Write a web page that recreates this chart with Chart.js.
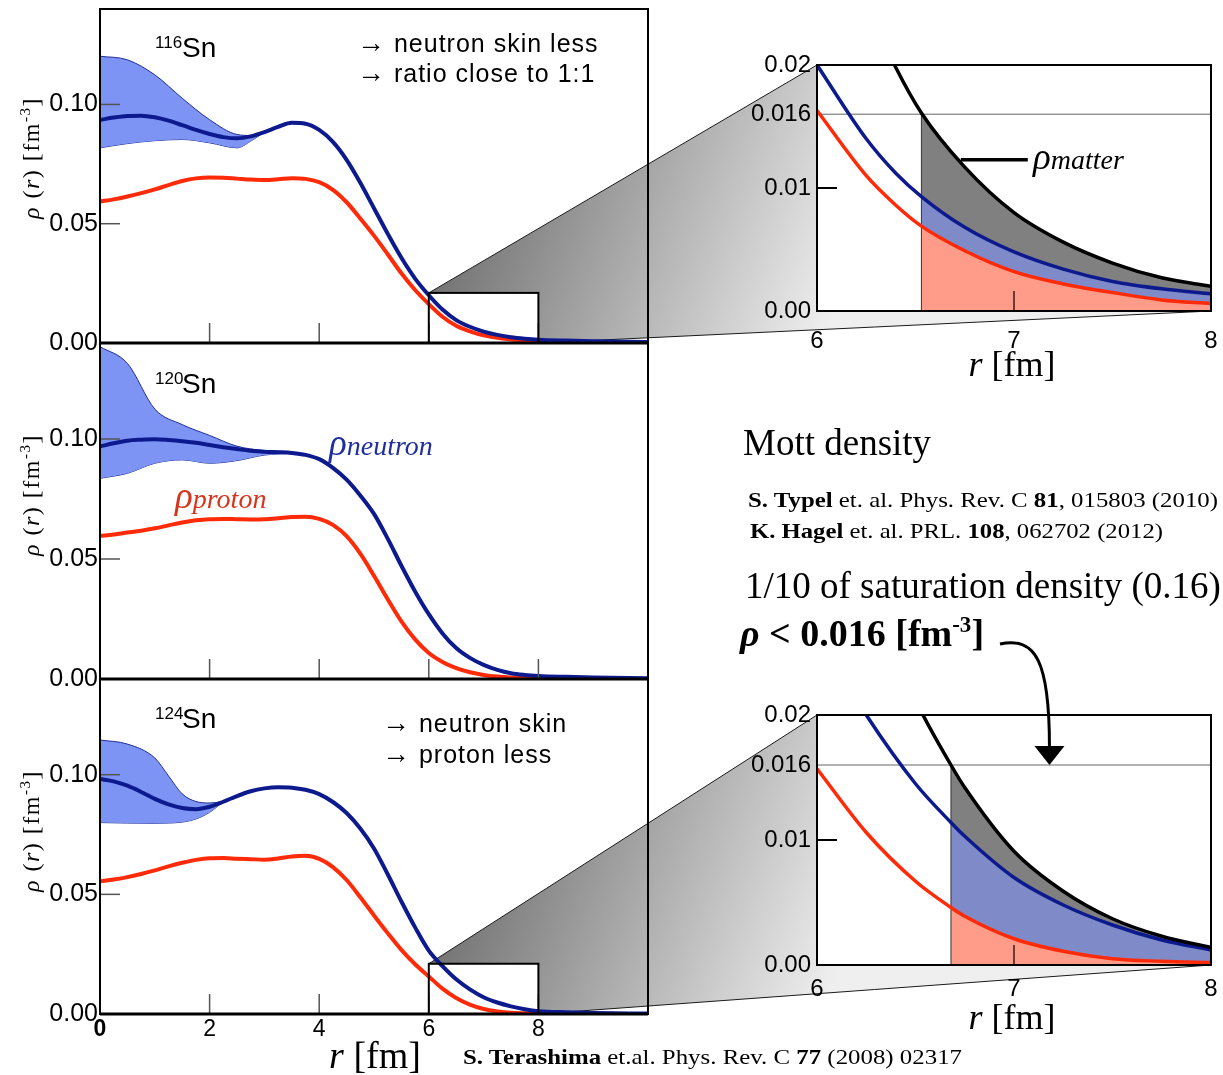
<!DOCTYPE html>
<html>
<head>
<meta charset="utf-8">
<script src="https://cdn.jsdelivr.net/npm/chart.js@4.4.1/dist/chart.umd.min.js"></script>
<style>
  html, body { margin: 0; padding: 0; background: #fff; }
  #stage { position: relative; width: 1223px; height: 1075px; overflow: hidden; background: #fff; }
  #stage canvas { position: absolute; }
  #labels { position: absolute; left: 0; top: 0; z-index: 5; }
</style>
</head>
<body>
<div id="stage">
  <canvas id="wedges" width="1223" height="1075" style="left:0;top:0;z-index:0"></canvas>
  <canvas id="p116" width="660" height="357" style="left:0;top:0;z-index:1"></canvas>
  <canvas id="p120" width="660" height="359" style="left:0;top:334px;z-index:1"></canvas>
  <canvas id="p124" width="660" height="389" style="left:0;top:670px;z-index:1"></canvas>
  <canvas id="z116" width="483" height="300" style="left:740px;top:50px;z-index:2"></canvas>
  <canvas id="z124" width="483" height="300" style="left:740px;top:700px;z-index:2"></canvas>

  <svg id="labels" width="1223" height="1075" xmlns="http://www.w3.org/2000/svg">
    <defs>
      <style>
        .sans { font-family: 'Liberation Sans', Arial, Helvetica, sans-serif; }
        .serif { font-family: 'Liberation Serif', 'Times New Roman', Times, serif; }
      </style>
    </defs>

    <!-- nucleus names -->
    <text class="sans" x="155" y="48" font-size="17">116</text>
    <text class="sans" x="182" y="57" font-size="28">Sn</text>
    <text class="sans" x="155" y="384" font-size="17">120</text>
    <text class="sans" x="182" y="393" font-size="28">Sn</text>
    <text class="sans" x="155" y="719" font-size="17">124</text>
    <text class="sans" x="182" y="728" font-size="28">Sn</text>

    <!-- comments inside the panels -->
    <text class="sans" x="357" y="52" font-size="25" letter-spacing="1"><tspan font-size="28">→</tspan> neutron skin less</text>
    <text class="sans" x="357" y="82" font-size="25" letter-spacing="1"><tspan font-size="28">→</tspan> ratio close to 1:1</text>
    <text class="sans" x="382" y="732" font-size="25" letter-spacing="1"><tspan font-size="28">→</tspan> neutron skin</text>
    <text class="sans" x="382" y="763" font-size="25" letter-spacing="1"><tspan font-size="28">→</tspan> proton less</text>

    <!-- curve names -->
    <text class="serif" x="329" y="455" fill="#1f2f9f" font-style="italic"><tspan font-size="37">ρ</tspan><tspan font-size="28">neutron</tspan></text>
    <text class="serif" x="175" y="508" fill="#d8341c" font-style="italic"><tspan font-size="37">ρ</tspan><tspan font-size="28">proton</tspan></text>
    <text class="serif" x="1033" y="169" fill="#000" font-style="italic"><tspan font-size="37">ρ</tspan><tspan font-size="28">matter</tspan></text>

    <!-- axis titles -->
    <text class="serif" transform="translate(39,158) rotate(-90)" text-anchor="middle" font-size="24" letter-spacing="1.5"><tspan font-style="italic">ρ</tspan> (<tspan font-style="italic">r</tspan>) [fm<tspan font-size="15" dy="-9">-3</tspan><tspan dy="9">]</tspan></text>
    <text class="serif" transform="translate(39,495) rotate(-90)" text-anchor="middle" font-size="24" letter-spacing="1.5"><tspan font-style="italic">ρ</tspan> (<tspan font-style="italic">r</tspan>) [fm<tspan font-size="15" dy="-9">-3</tspan><tspan dy="9">]</tspan></text>
    <text class="serif" transform="translate(39,831) rotate(-90)" text-anchor="middle" font-size="24" letter-spacing="1.5"><tspan font-style="italic">ρ</tspan> (<tspan font-style="italic">r</tspan>) [fm<tspan font-size="15" dy="-9">-3</tspan><tspan dy="9">]</tspan></text>
    <text class="serif" x="375" y="1068" text-anchor="middle" font-size="38"><tspan font-style="italic">r</tspan> [fm]</text>
    <text class="serif" x="1012" y="376" text-anchor="middle" font-size="36"><tspan font-style="italic">r</tspan> [fm]</text>
    <text class="serif" x="1012" y="1029" text-anchor="middle" font-size="36"><tspan font-style="italic">r</tspan> [fm]</text>

    <!-- Mott density notes -->
    <text class="serif" x="743" y="455" font-size="37">Mott density</text>
    <text class="serif" x="748" y="507" font-size="22" textLength="470" lengthAdjust="spacingAndGlyphs"><tspan font-weight="bold">S. Typel</tspan> et. al. Phys. Rev. C <tspan font-weight="bold">81</tspan>, 015803 (2010)</text>
    <text class="serif" x="750" y="538" font-size="22" textLength="413" lengthAdjust="spacingAndGlyphs"><tspan font-weight="bold">K. Hagel</tspan> et. al. PRL. <tspan font-weight="bold">108</tspan>, 062702 (2012)</text>
    <text class="serif" x="745" y="598" font-size="37">1/10 of saturation density (0.16)</text>
    <text class="serif" x="740" y="646" font-size="38" font-weight="bold"><tspan font-style="italic">ρ</tspan> &lt; 0.016 [fm<tspan font-size="23" dy="-14">-3</tspan><tspan dy="14">]</tspan></text>
    <text class="serif" x="463" y="1064" font-size="22" textLength="499" lengthAdjust="spacingAndGlyphs"><tspan font-weight="bold">S. Terashima</tspan> et.al. Phys. Rev. C <tspan font-weight="bold">77</tspan> (2008) 02317</text>

    <!-- arrow from the density criterion to the lower inset -->
    <path id="mottArrow" d="" fill="none" stroke="#000" stroke-width="3"/>
    <path id="mottArrowHead" d="" fill="#000" stroke="none"/>
  </svg>
</div>

<script>
// ---------------- data ----------------
// radial grid of the full density profiles [fm]
const rMain = [0, 0.25, 0.5, 0.75, 1, 1.25, 1.5, 1.75, 2, 2.25, 2.5, 2.75, 3, 3.25, 3.5, 3.75,
               4, 4.25, 4.5, 4.75, 5, 5.25, 5.5, 5.75, 6, 6.25, 6.5, 6.75, 7, 7.25, 7.5, 7.75,
               8, 8.5, 9, 10];

// 116Sn
const neutron116 = [0.0935, 0.0945, 0.0952, 0.0953, 0.0946, 0.0932, 0.0913, 0.0893, 0.0876, 0.0863, 0.0858, 0.0866, 0.0884, 0.0906, 0.0923, 0.0919,
                    0.0893, 0.0843, 0.0768, 0.0672, 0.0565, 0.0458, 0.0357, 0.0270, 0.0200, 0.0140, 0.0096, 0.0068, 0.0048, 0.0034, 0.0024, 0.0018,
                    0.0014, 0.0010, 0.0007, 0.0004];
const proton116  = [0.0593, 0.0602, 0.0614, 0.0628, 0.0644, 0.0662, 0.0679, 0.0690, 0.0694, 0.0693, 0.0689, 0.0685, 0.0683, 0.0686, 0.0691, 0.0688,
                    0.0674, 0.0642, 0.0590, 0.0522, 0.0450, 0.0372, 0.0292, 0.0222, 0.0163, 0.0110, 0.0072, 0.0049, 0.0032, 0.0022, 0.0015, 0.0009,
                    0.0006, 0.0003, 0.0002, 0.0001];
const rBand116   = [0, 0.5, 1, 1.5, 2, 2.5, 2.75, 3];
const bandHi116  = [0.1202, 0.1187, 0.1124, 0.1026, 0.0936, 0.0874, 0.0870, 0.0884];
const bandLo116  = [0.0818, 0.0836, 0.0848, 0.0853, 0.0839, 0.0818, 0.0846, 0.0884];

// 120Sn
const neutron120 = [0.0969, 0.0982, 0.0993, 0.0997, 0.0999, 0.0996, 0.0991, 0.0984, 0.0975, 0.0966, 0.0958, 0.0951, 0.0947, 0.0945, 0.0942, 0.0934,
                    0.0916, 0.0880, 0.0831, 0.0765, 0.0688, 0.0585, 0.0472, 0.0365, 0.0270, 0.0190, 0.0129, 0.0088, 0.0059, 0.0038, 0.0024, 0.0017,
                    0.0013, 0.0009, 0.0006, 0.0003];
const proton120  = [0.0596, 0.0602, 0.0610, 0.0618, 0.0628, 0.0640, 0.0652, 0.0661, 0.0666, 0.0667, 0.0666, 0.0665, 0.0666, 0.0670, 0.0675, 0.0676,
                    0.0667, 0.0642, 0.0595, 0.0522, 0.0430, 0.0332, 0.0240, 0.0165, 0.0108, 0.0071, 0.0045, 0.0028, 0.0017, 0.0010, 0.0006, 0.0004,
                    0.0002, 0.0001, 0.0001, 0.0000];
const rBand120   = [0, 0.5, 1, 1.5, 2, 2.5, 3, 3.5, 3.75];
const bandHi120  = [0.1385, 0.1315, 0.1125, 0.1060, 0.1015, 0.0970, 0.0952, 0.0945, 0.0934];
const bandLo120  = [0.0836, 0.0857, 0.0899, 0.0913, 0.0899, 0.0910, 0.0933, 0.0939, 0.0934];

// 124Sn
const neutron124 = [0.0982, 0.0972, 0.0954, 0.0928, 0.0899, 0.0876, 0.0861, 0.0856, 0.0866, 0.0887, 0.0911, 0.0931, 0.0943, 0.0948, 0.0946, 0.0937,
                    0.0919, 0.0886, 0.0840, 0.0775, 0.0692, 0.0584, 0.0470, 0.0362, 0.0265, 0.0200, 0.0145, 0.0103, 0.0070, 0.0048, 0.0032, 0.0020,
                    0.0012, 0.0007, 0.0004, 0.0002];
const proton124  = [0.0554, 0.0562, 0.0572, 0.0585, 0.0600, 0.0617, 0.0632, 0.0644, 0.0651, 0.0652, 0.0649, 0.0647, 0.0645, 0.0650, 0.0658, 0.0661,
                    0.0648, 0.0614, 0.0560, 0.0488, 0.0412, 0.0338, 0.0268, 0.0208, 0.0157, 0.0106, 0.0067, 0.0039, 0.0021, 0.0011, 0.0005, 0.0003,
                    0.0002, 0.0001, 0.0001, 0.0000];
const rBand124   = [0, 0.5, 1, 1.25, 1.5, 1.75, 2, 2.25];
const bandHi124  = [0.1145, 0.1128, 0.1070, 0.0995, 0.0920, 0.0888, 0.0882, 0.0887];
const bandLo124  = [0.0800, 0.0798, 0.0797, 0.0798, 0.0802, 0.0815, 0.0843, 0.0887];

// surface tails, 6-8 fm (the Mott radius is the 4th point)
const rTail116       = [6, 6.25, 6.4, 6.53, 6.75, 7, 7.25, 7.5, 7.75, 8];
const neutronTail116 = [0.0200, 0.0140, 0.0112, 0.0093, 0.0068, 0.0048, 0.0034, 0.0024, 0.0018, 0.0014];
const protonTail116  = [0.0163, 0.0110, 0.0086, 0.0069, 0.0049, 0.0032, 0.0022, 0.0015, 0.0009, 0.0006];
const matterTail116  = [0.0363, 0.0250, 0.0198, 0.0161, 0.0117, 0.0080, 0.0056, 0.0039, 0.0027, 0.0020];
const mottIndex116 = 3;

const rTail124       = [6, 6.25, 6.5, 6.68, 6.75, 7, 7.25, 7.5, 7.75, 8];
const neutronTail124 = [0.0265, 0.0200, 0.0145, 0.0114, 0.0103, 0.0070, 0.0048, 0.0032, 0.0020, 0.0012];
const protonTail124  = [0.0157, 0.0106, 0.0067, 0.0046, 0.0039, 0.0021, 0.0011, 0.0005, 0.0003, 0.0002];
const matterTail124  = [0.0422, 0.0306, 0.0212, 0.0160, 0.0142, 0.0091, 0.0059, 0.0037, 0.0023, 0.0014];
const mottIndex124 = 3;

// Mott density criterion [fm^-3]
const mottDensity = 0.016;

// axes
const mainYTicks = [0, 0.05, 0.10];
const mainYTickLabels = ['0.00', '0.05', '0.10'];
const mainXTicks = [0, 2, 4, 6, 8];
const mainXTickLabels = ['0', '2', '4', '6', '8'];
const mainXTickMarks = [2, 4, 6, 8];
const mainYTickMarks = [0.05, 0.10];

const tailYTicks = [0, 0.01, 0.016, 0.02];
const tailYTickLabels = ['0.00', '0.01', '0.016', '0.02'];
const tailXTicks = [6, 7, 8];
const tailXTickLabels = ['6', '7', '8'];

// window of the full profile that the insets enlarge
const zoomWindow = { rMin: 6, rMax: 8, rhoMin: 0, rhoMax: 0.021 };
const tailRhoMax = 0.02;
// point on the Mott line where the arrow ends
const arrowTipR = 7.18;
// ρ_matter leader line, data coordinates
const matterLeader = { r0: 6.73, r1: 7.07, rho: 0.0123 };

// ---------------- styling ----------------
const SANS = "'Liberation Sans', Arial, Helvetica, sans-serif";
Chart.defaults.font.family = SANS;
Chart.defaults.color = '#000';

const NEUTRON = '#0c1a8e';
const PROTON = '#ff2a08';
const BAND_FILL = '#7d94f5';
const BAND_EDGE = '#1f2d96';

const xy = (xs, ys) => xs.map((x, i) => ({ x, y: ys[i] }));

function line(ctx, x0, y0, x1, y1) {
  ctx.beginPath(); ctx.moveTo(x0, y0); ctx.lineTo(x1, y1); ctx.stroke();
}

// keep the plot area exactly where the layout puts it (no label overhang padding)
function fixSize(prop, value) {
  return s => {
    s[prop] = value;
    s.paddingLeft = 0; s.paddingRight = 0; s.paddingTop = 0; s.paddingBottom = 0;
  };
}

function profileFrame(showBox) {
  return {
    id: 'profileFrame',
    afterDatasetsDraw(chart) {
      const { ctx, chartArea: a, scales: { x, y } } = chart;
      ctx.save();
      ctx.strokeStyle = '#555';
      ctx.lineWidth = 1.5;
      mainXTickMarks.forEach(v => { const px = x.getPixelForValue(v); line(ctx, px, a.bottom, px, a.bottom - 20); });
      mainYTickMarks.forEach(v => { const py = y.getPixelForValue(v); line(ctx, a.left, py, a.left + 20, py); });
      if (showBox) {
        const l = x.getPixelForValue(zoomWindow.rMin), r = x.getPixelForValue(zoomWindow.rMax);
        const t = y.getPixelForValue(zoomWindow.rhoMax), b = y.getPixelForValue(zoomWindow.rhoMin);
        ctx.strokeStyle = '#000';
        ctx.lineWidth = 2;
        ctx.strokeRect(l, t, r - l, b - t);
      }
      ctx.strokeStyle = '#000';
      ctx.lineWidth = 2;
      ctx.strokeRect(a.left, a.top, a.right - a.left, a.bottom - a.top);
      ctx.lineWidth = 3;
      line(ctx, a.left, a.bottom, a.right, a.bottom);
      ctx.restore();
    }
  };
}

function profileChart(id, neutron, proton, rBand, bandHi, bandLo, bottom, showX, showBox) {
  const common = { pointRadius: 0, cubicInterpolationMode: 'monotone' };
  return new Chart(document.getElementById(id), {
    type: 'line',
    data: {
      datasets: [
        { ...common, data: xy(rMain, neutron), borderColor: NEUTRON, borderWidth: 4, fill: false },
        { ...common, data: xy(rMain, proton), borderColor: PROTON, borderWidth: 4, fill: false },
        { ...common, data: xy(rBand, bandHi), borderColor: BAND_EDGE, borderWidth: 1, backgroundColor: BAND_FILL, fill: '+1' },
        { ...common, data: xy(rBand, bandLo), borderColor: BAND_EDGE, borderWidth: 1, fill: false }
      ]
    },
    options: {
      responsive: false, animation: false, devicePixelRatio: 1, events: [],
      layout: { padding: { top: 9, right: 12, left: 0, bottom: 0 } },
      plugins: { legend: { display: false }, tooltip: { enabled: false } },
      scales: {
        x: {
          type: 'linear', min: 0, max: 10,
          grid: { display: false, drawTicks: false }, border: { display: false },
          afterBuildTicks: s => { s.ticks = mainXTicks.map(v => ({ value: v })); },
          afterFit: fixSize('height', bottom),
          ticks: {
            display: showX, padding: 2, color: '#000',
            font: c => ({ size: 23, weight: (c.tick && c.tick.value === 0) ? 'bold' : 'normal' }),
            callback: (v, i) => mainXTickLabels[i]
          }
        },
        y: {
          type: 'linear', min: 0, max: 0.14,
          grid: { display: false, drawTicks: false }, border: { display: false },
          afterBuildTicks: s => { s.ticks = mainYTicks.map(v => ({ value: v })); },
          afterFit: fixSize('width', 100),
          ticks: { padding: 2, color: '#000', font: { size: 25 }, callback: (v, i) => mainYTickLabels[i] }
        }
      }
    },
    plugins: [profileFrame(showBox)]
  });
}

function tailFrame(withLeader) {
  return {
    id: 'tailFrame',
    beforeDraw(chart) {
      const { ctx, chartArea: a } = chart;
      ctx.save();
      ctx.fillStyle = '#fff';
      ctx.fillRect(a.left, a.top, a.right - a.left, a.bottom - a.top);
      ctx.restore();
    },
    afterDatasetsDraw(chart) {
      const { ctx, chartArea: a, scales: { x, y } } = chart;
      ctx.save();
      ctx.strokeStyle = '#000';
      ctx.lineWidth = 2;
      const py = y.getPixelForValue(0.01);
      line(ctx, a.left, py, a.left + 20, py);
      ctx.strokeStyle = '#3a1a14';
      ctx.lineWidth = 1.5;
      const px = x.getPixelForValue(7);
      line(ctx, px, a.bottom, px, a.bottom - 20);
      if (withLeader) {
        ctx.strokeStyle = '#000';
        ctx.lineWidth = 3.5;
        const ly = y.getPixelForValue(matterLeader.rho);
        line(ctx, x.getPixelForValue(matterLeader.r0), ly, x.getPixelForValue(matterLeader.r1), ly);
      }
      ctx.strokeStyle = '#000';
      ctx.lineWidth = 2;
      ctx.strokeRect(a.left, a.top, a.right - a.left, a.bottom - a.top);
      ctx.restore();
    }
  };
}

function tailChart(id, r, neutron, proton, matter, mottIdx, bottom, labelPad, withLeader) {
  const common = { pointRadius: 0, cubicInterpolationMode: 'monotone', clip: 1 };
  const rm = r.slice(mottIdx);
  const rMott = r[mottIdx];
  const clear = 'rgba(0,0,0,0)';
  return new Chart(document.getElementById(id), {
    type: 'line',
    data: {
      datasets: [
        { ...common, data: xy(r, matter), borderColor: '#000', borderWidth: 3.5, fill: false },
        { ...common, data: xy(r, neutron), borderColor: NEUTRON, borderWidth: 3.5, fill: false },
        { ...common, data: xy(r, proton), borderColor: PROTON, borderWidth: 3.5, fill: false },
        { pointRadius: 0, data: [{ x: zoomWindow.rMin, y: mottDensity }, { x: zoomWindow.rMax, y: mottDensity }], borderColor: '#666', borderWidth: 1, fill: false },
        { pointRadius: 0, data: [{ x: rMott, y: 0 }, { x: rMott, y: mottDensity }], borderColor: '#333', borderWidth: 1, fill: false },
        { ...common, data: xy(rm, proton.slice(mottIdx)), borderColor: clear, borderWidth: 0, backgroundColor: '#ff9b89', fill: 'origin' },
        { ...common, data: xy(rm, neutron.slice(mottIdx)), borderColor: clear, borderWidth: 0, backgroundColor: '#7f8ac9', fill: '-1' },
        { ...common, data: xy(rm, matter.slice(mottIdx)), borderColor: clear, borderWidth: 0, backgroundColor: '#808080', fill: '-1' }
      ]
    },
    options: {
      responsive: false, animation: false, devicePixelRatio: 1, events: [],
      layout: { padding: { top: 15, right: 12, left: 0, bottom: 0 } },
      plugins: { legend: { display: false }, tooltip: { enabled: false } },
      scales: {
        x: {
          type: 'linear', min: zoomWindow.rMin, max: zoomWindow.rMax,
          grid: { display: false, drawTicks: false }, border: { display: false },
          afterBuildTicks: s => { s.ticks = tailXTicks.map(v => ({ value: v })); },
          afterFit: fixSize('height', bottom),
          ticks: { padding: labelPad, color: '#000', font: { size: 24 }, callback: (v, i) => tailXTickLabels[i] }
        },
        y: {
          type: 'linear', min: 0, max: tailRhoMax,
          grid: { display: false, drawTicks: false }, border: { display: false },
          afterBuildTicks: s => { s.ticks = tailYTicks.map(v => ({ value: v })); },
          afterFit: fixSize('width', 77),
          ticks: { padding: 6, color: '#000', font: { size: 24 }, callback: (v, i) => tailYTickLabels[i] }
        }
      }
    },
    plugins: [tailFrame(withLeader)]
  });
}

// ---------------- charts ----------------
const p116 = profileChart('p116', neutron116, proton116, rBand116, bandHi116, bandLo116, 14, false, true);
const p120 = profileChart('p120', neutron120, proton120, rBand120, bandHi120, bandLo120, 14, false, false);
const p124 = profileChart('p124', neutron124, proton124, rBand124, bandHi124, bandLo124, 45, true, true);
const z116 = tailChart('z116', rTail116, neutronTail116, protonTail116, matterTail116, mottIndex116, 39, 16, true);
const z124 = tailChart('z124', rTail124, neutronTail124, protonTail124, matterTail124, mottIndex124, 35, 10, false);

// ---------------- wedges joining each window to its inset ----------------
const at = c => ({ x: c.canvas.offsetLeft, y: c.canvas.offsetTop });

function drawWedge(ctx, main, inset) {
  const mo = at(main), io = at(inset);
  const mx = main.scales.x, my = main.scales.y, ix = inset.scales.x, iy = inset.scales.y;
  const bL = mo.x + mx.getPixelForValue(zoomWindow.rMin), bR = mo.x + mx.getPixelForValue(zoomWindow.rMax);
  const bT = mo.y + my.getPixelForValue(zoomWindow.rhoMax), bB = mo.y + my.getPixelForValue(zoomWindow.rhoMin);
  const iL = io.x + ix.getPixelForValue(zoomWindow.rMin), iR = io.x + ix.getPixelForValue(zoomWindow.rMax);
  const iT = io.y + iy.getPixelForValue(tailRhoMax), iB = io.y + iy.getPixelForValue(0);

  const g = ctx.createLinearGradient(bL, bT - 42, bL + 369, bT + 108);
  g.addColorStop(0, '#6e6e6e');
  g.addColorStop(1, '#efefef');
  ctx.beginPath();
  ctx.moveTo(bL, bT); ctx.lineTo(iL, iT); ctx.lineTo(iR, iB); ctx.lineTo(bR, bB); ctx.lineTo(bR, bT);
  ctx.closePath();
  ctx.fillStyle = g;
  ctx.fill();
  ctx.strokeStyle = '#1a1a1a';
  ctx.lineWidth = 1;
  line(ctx, bL, bT, iL, iT);
  line(ctx, bR, bB, iR, iB);
}

const wctx = document.getElementById('wedges').getContext('2d');
drawWedge(wctx, p116, z116);
drawWedge(wctx, p124, z124);

// ---------------- arrow to the Mott line ----------------
(function () {
  const o = at(z124);
  const tx = o.x + z124.scales.x.getPixelForValue(arrowTipR);
  const ty = o.y + z124.scales.y.getPixelForValue(mottDensity);
  const headH = 19, headW = 15;
  document.getElementById('mottArrow').setAttribute('d',
    `M 1000 644 C 1036 636, ${tx} 662, ${tx} ${ty - headH + 1}`);
  document.getElementById('mottArrowHead').setAttribute('d',
    `M ${tx - headW} ${ty - headH} L ${tx + headW} ${ty - headH} L ${tx} ${ty} Z`);
})();
</script>
</body>
</html>
